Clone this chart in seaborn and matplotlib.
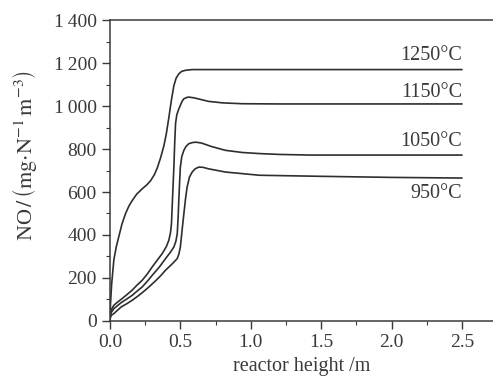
import numpy as np
import pandas as pd
import seaborn as sns
import matplotlib.pyplot as plt
from matplotlib.ticker import MultipleLocator, FixedLocator, FixedFormatter

# reactor height (m) and NO concentration
x_1250 = [0, 0.004, 0.012, 0.028, 0.045, 0.064, 0.085, 0.111, 0.135, 0.158, 0.19, 0.229, 0.26, 0.288,
          0.315, 0.336, 0.36, 0.383, 0.40, 0.418, 0.437, 0.454, 0.47, 0.489, 0.51, 0.54, 0.584, 0.65, 1.0, 2.5]
no_1250 = [0, 80, 170, 285, 345, 395, 450, 500, 535, 560, 590, 615, 632, 652,
           680, 712, 760, 815, 870, 945, 1030, 1095, 1130, 1150, 1162, 1167, 1170, 1170, 1170, 1170]

x_1150 = [0, 0.008, 0.028, 0.055, 0.087, 0.12, 0.158, 0.19, 0.229, 0.265, 0.30, 0.335, 0.371, 0.40,
          0.418, 0.43, 0.437, 0.445, 0.454, 0.46, 0.466, 0.475, 0.488, 0.501, 0.512, 0.525, 0.545,
          0.56, 0.6, 0.65, 0.70, 0.8, 0.94, 1.2, 2.5]
no_1150 = [15, 50, 73, 88, 104, 122, 143, 165, 189, 218, 251, 282, 313, 345,
           375, 410, 453, 580, 716, 830, 920, 960, 985, 1005, 1022, 1034, 1040,
           1042, 1038, 1030, 1022, 1015, 1011, 1010, 1010]

x_1050 = [0, 0.008, 0.028, 0.08, 0.12, 0.158, 0.19, 0.229, 0.265, 0.30, 0.35, 0.395, 0.43, 0.454,
          0.468, 0.478, 0.484, 0.489, 0.495, 0.50, 0.51, 0.525, 0.54, 0.56, 0.585, 0.61, 0.65,
          0.72, 0.82, 0.94, 1.06, 1.2, 1.42, 2.5]
no_1050 = [10, 38, 57, 85, 102, 119, 137, 158, 184, 212, 250, 290, 320, 344,
           370, 406, 480, 561, 650, 716, 765, 794, 812, 825, 830, 832, 828,
           812, 794, 784, 779, 775, 772, 772]

x_950 = [0, 0.008, 0.028, 0.08, 0.12, 0.158, 0.2, 0.24, 0.277, 0.32, 0.36, 0.395, 0.44, 0.478,
         0.49, 0.50, 0.512, 0.525, 0.537, 0.548, 0.565, 0.584, 0.605, 0.631, 0.66, 0.70, 0.82,
         1.06, 1.5, 2.0, 2.5]
no_950 = [5, 25, 34, 65, 80, 96, 116, 137, 158, 184, 210, 236, 264, 290,
          312, 344, 420, 499, 570, 623, 670, 693, 708, 716, 715, 708, 693,
          678, 673, 668, 665]

temps = ["1250°C", "1150°C", "1050°C", "950°C"]
label_y = [1237, 1065, 833, 595]

y_ticks = [0, 200, 400, 600, 800, 1000, 1200, 1400]
y_tick_labels = ["0", "200", "400", "600", "800", "1\u2009000", "1\u2009200", "1\u2009400"]
x_ticks = [0.0, 0.5, 1.0, 1.5, 2.0, 2.5]

frames = []
for t, xs, ys in zip(temps, [x_1250, x_1150, x_1050, x_950], [no_1250, no_1150, no_1050, no_950]):
    frames.append(pd.DataFrame({"h": xs, "no": ys, "T": t}))
df = pd.concat(frames, ignore_index=True)

sns.set_style("ticks")
plt.rcParams["font.family"] = ["Liberation Serif", "DejaVu Serif"]
plt.rcParams["mathtext.fontset"] = "stix"

ink = "#3a3a3a"
fig = plt.figure(figsize=(4.93, 3.88), dpi=100)
ax = fig.add_axes([0.223, 0.173, 0.777, 0.775])

sns.lineplot(data=df, x="h", y="no", hue="T", palette={t: "#2e2e2e" for t in temps},
             estimator=None, legend=False, linewidth=1.2, ax=ax)

for t, yv in zip(temps, label_y):
    ax.text(2.5, yv, t, ha="right", va="center", fontsize=14.5, color=ink)

ax.set_xlim(0, 2.72)
ax.set_ylim(0, 1400)
ax.xaxis.set_major_locator(FixedLocator(x_ticks))
ax.xaxis.set_major_formatter(FixedFormatter([f"{v:.1f}" for v in x_ticks]))
ax.xaxis.set_minor_locator(MultipleLocator(0.25))
ax.yaxis.set_major_locator(FixedLocator(y_ticks))
ax.yaxis.set_major_formatter(FixedFormatter(y_tick_labels))
ax.yaxis.set_minor_locator(MultipleLocator(100))

ax.tick_params(which="major", length=6, width=1, color=ink, labelsize=14, labelcolor=ink, direction="out")
ax.tick_params(which="minor", length=3, width=0.8, color=ink, direction="out")

for side in ["left", "bottom", "top"]:
    ax.spines[side].set_color(ink)
    ax.spines[side].set_linewidth(1.1)
ax.spines["right"].set_visible(False)

ax.set_xlabel("reactor height /m", fontsize=14.5, color=ink, labelpad=4)
ax.set_ylabel(r"NO$\,/\,\left(\mathrm{mg}{\cdot}\mathrm{N}^{-1}\,\mathrm{m}^{-3}\right)$",
              fontsize=16, color=ink)
ax.yaxis.set_label_coords(-0.185, 0.55)

fig.savefig("out.png", dpi=100)
